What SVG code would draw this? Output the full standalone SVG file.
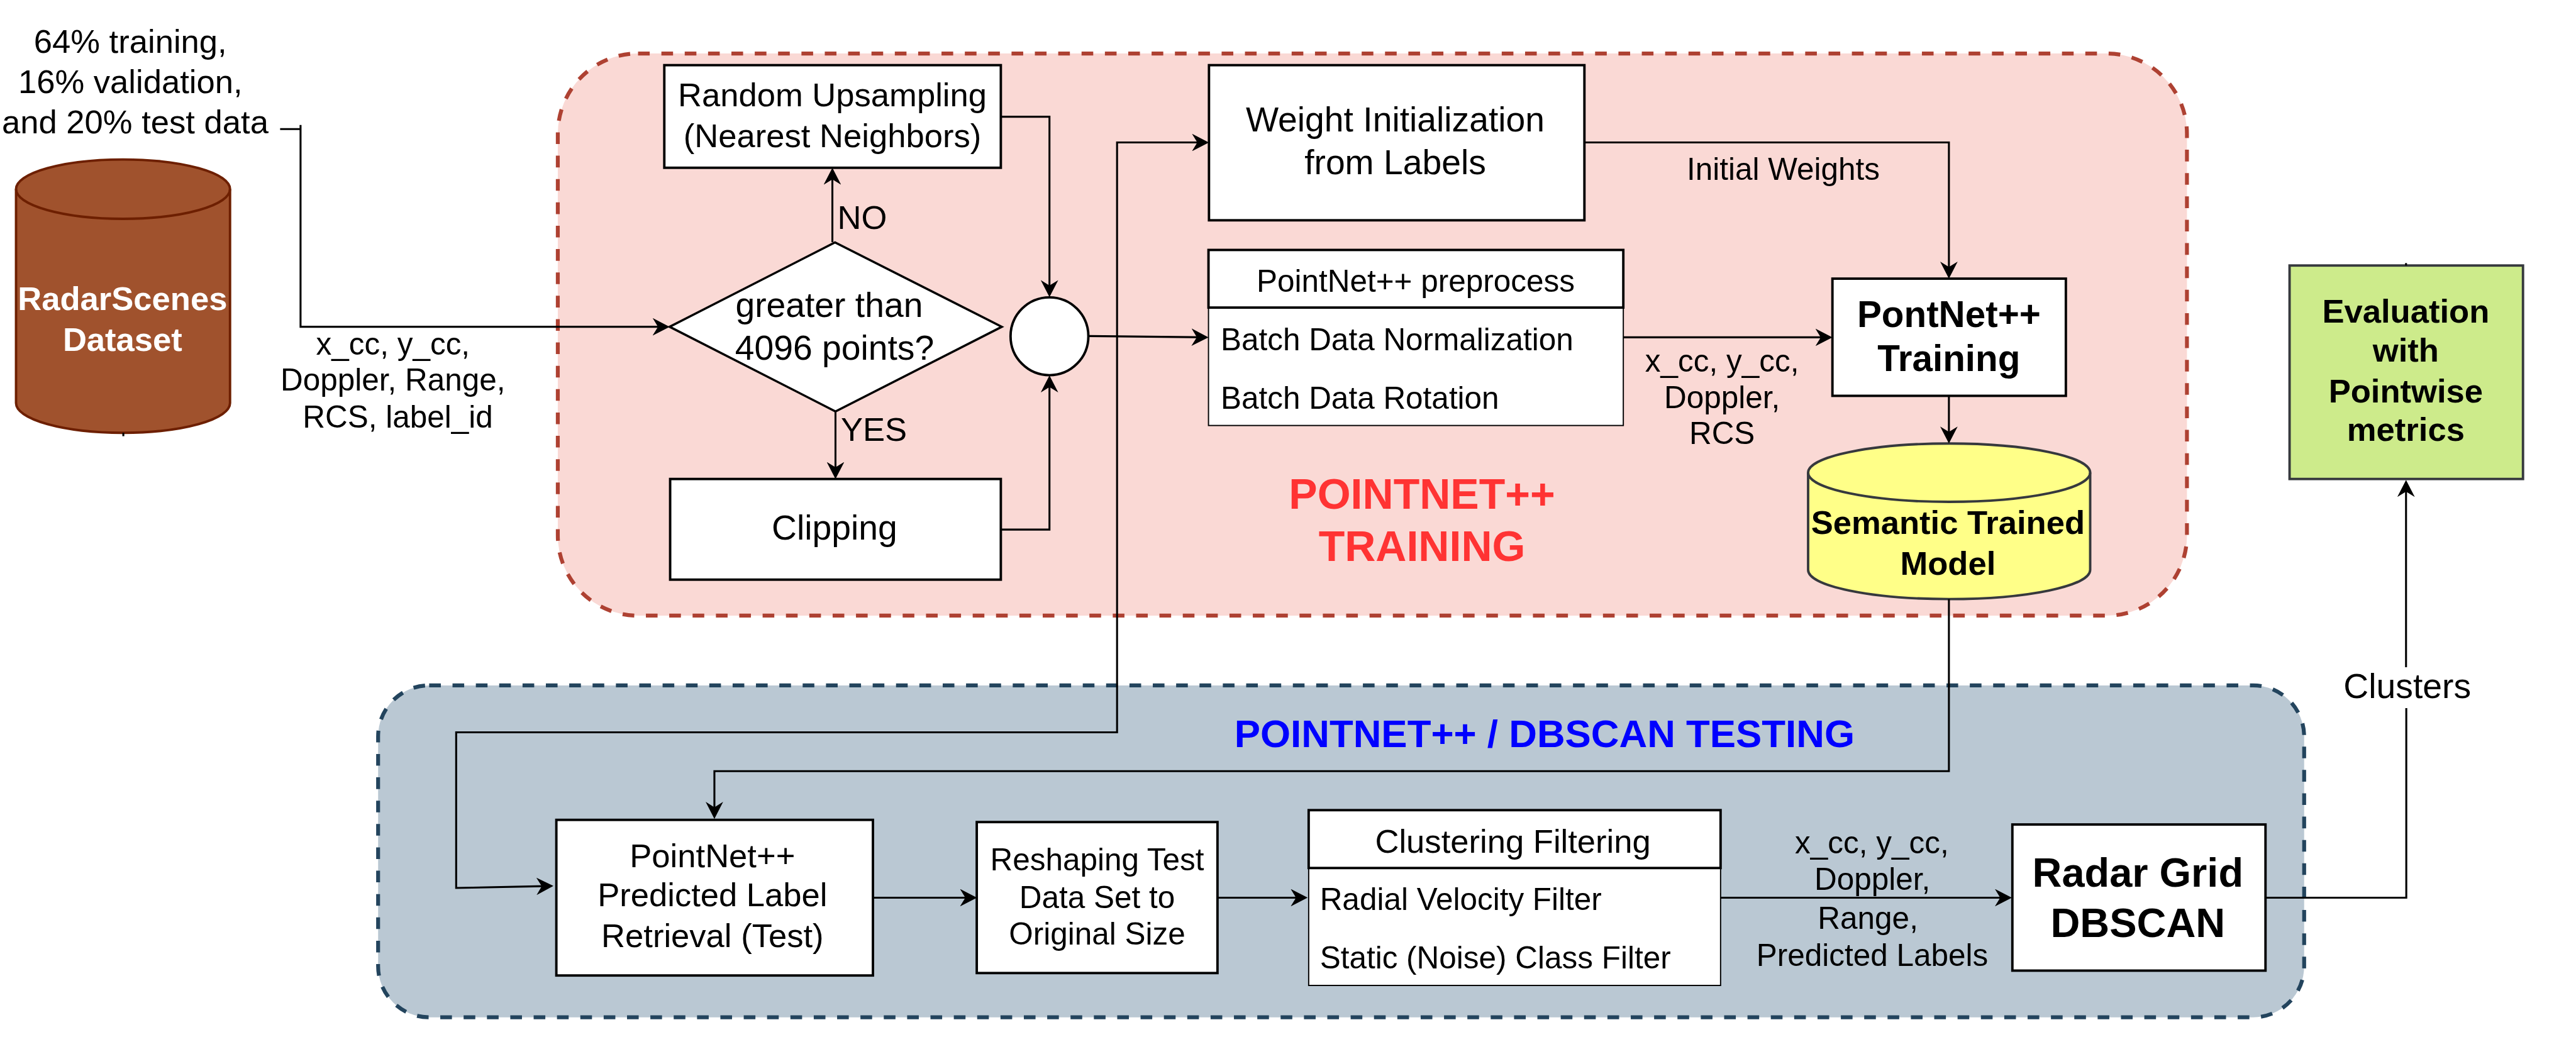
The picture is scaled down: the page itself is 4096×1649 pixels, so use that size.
<svg xmlns="http://www.w3.org/2000/svg" width="4096" height="1649" viewBox="0 0 4096 1649">
<style>
text{font-family:"Liberation Sans",Arial,sans-serif;fill:#000;font-size:68px}
.m{text-anchor:middle}
.b{font-weight:bold}
.s{font-size:64px}
.l{font-size:71.5px}
.n{fill:#fff;stroke:#000;stroke-width:5}
.t{fill:#fff;stroke:#000;stroke-width:2.5}
.c{fill:none;stroke:#000;stroke-width:4}
.a{marker-end:url(#arr)}
</style>
<defs>
<marker id="arr" viewBox="0 0 35 36" refX="30" refY="18" markerWidth="35" markerHeight="36" markerUnits="userSpaceOnUse" orient="auto-start-reverse"><path d="M35,18 L0,0 L11,18 L0,36 Z" fill="#000"/></marker>
</defs>
<g transform="scale(0.77327)">
<g id="region-training"><rect x="1147" y="110" width="3350" height="1156" rx="165" ry="165" fill="#fad9d5" stroke="#ae4132" stroke-width="8" stroke-dasharray="24 24"/>
<text class="m b" x="2924" y="1046" style="font-size:88px;fill:#ff3333">POINTNET++</text><text class="m b" x="2924" y="1154" style="font-size:88px;fill:#ff3333">TRAINING</text></g>
<g id="region-testing"><rect x="777.5" y="1409.5" width="3960.5" height="682.5" rx="105" ry="105" fill="#bac8d3" stroke="#23445d" stroke-width="8" stroke-dasharray="24 24"/>
<text class="m b" x="3176" y="1536" style="font-size:80px;fill:#0000ff">POINTNET++ / DBSCAN TESTING</text></g>

<g id="split-note"><text class="m" x="268" y="109">64% training,</text><text class="m" x="268" y="191">16% validation,</text><text class="m" x="278" y="274">and 20% test data</text></g>
<g id="radarscenes"><path d="M33,389 A220,61 0 0 1 473,389 V829 A220,61 0 0 1 33,829 Z" fill="#a0522d" stroke="#6d1f00" stroke-width="5"/><path d="M33,389 A220,61 0 0 0 473,389" fill="none" stroke="#6d1f00" stroke-width="5"/>
<text class="m b" x="252" y="638" style="fill:#fff">RadarScenes</text><text class="m b" x="252" y="721" style="fill:#fff">Dataset</text></g>
<g id="upsampling"><rect class="n" x="1366" y="134" width="692" height="211"/><text class="m" x="1711.6" y="219">Random Upsampling</text><text class="m" x="1711.6" y="302.6">(Nearest Neighbors)</text></g>
<g id="decision"><polygon class="n" points="1377,672 1717,498.5 2060,672 1718,846" style="stroke-width:4.5"/><text class="m l" x="1705" y="651.6">greater than</text><text class="m l" x="1716" y="739.6">4096 points?</text></g>
<g id="clipping"><rect class="n" x="1378" y="985" width="680" height="207"/><text class="m l" x="1716" y="1110">Clipping</text></g>
<g id="merge"><circle class="n" cx="2158" cy="691.5" r="80"/></g>
<g id="weight-init"><rect class="n" x="2486" y="134" width="772" height="319"/><text class="m l" x="2869" y="270.5">Weight Initialization</text><text class="m l" x="2869" y="358.5">from Labels</text></g>
<g id="preprocess"><rect class="t" x="2485" y="632.5" width="853" height="242.5"/><rect class="n" x="2485" y="514" width="853" height="118.5"/><text class="m s" x="2911" y="599.5">PointNet++ preprocess</text><text class="s" x="2510" y="720">Batch Data Normalization</text><text class="s" x="2510" y="840.6">Batch Data Rotation</text></g>
<g id="training"><rect class="n" x="3768" y="573" width="480" height="241"/><text class="m b" x="4007.5" y="672" style="font-size:75.5px">PontNet++</text><text class="m b" x="4007.5" y="763" style="font-size:75.5px">Training</text></g>
<g id="trained-model"><path d="M3718,972 A290,60 0 0 1 4298,972 V1172 A290,60 0 0 1 3718,1172 Z" fill="#ffff88" stroke="#36393d" stroke-width="5"/><path d="M3718,972 A290,60 0 0 0 4298,972" fill="none" stroke="#36393d" stroke-width="5"/><text class="m b" x="4005.5" y="1098">Semantic Trained</text><text class="m b" x="4005.5" y="1182">Model</text></g>
<g id="evaluation"><rect x="4708" y="546" width="480" height="439" fill="#cdeb8b" stroke="#36393d" stroke-width="5"/><text class="m b" x="4947" y="663">Evaluation</text><text class="m b" x="4947" y="744">with</text><text class="m b" x="4947" y="828">Pointwise</text><text class="m b" x="4947" y="906.5">metrics</text></g>
<g id="label-retrieval"><rect class="n" x="1144" y="1686" width="651" height="320"/><text class="m" x="1465" y="1783.4">PointNet++</text><text class="m" x="1465" y="1863">Predicted Label</text><text class="m" x="1465" y="1948">Retrieval (Test)</text></g>
<g id="reshaping"><rect class="n" x="2008.5" y="1690.5" width="495" height="310.5"/><text class="m s" x="2256" y="1790">Reshaping Test</text><text class="m s" x="2256" y="1867">Data Set to</text><text class="m s" x="2256" y="1943">Original Size</text></g>
<g id="clustering"><rect class="t" x="2691" y="1785" width="847" height="241.5"/><rect class="n" x="2691" y="1666" width="847" height="119"/><text class="m" x="3111" y="1753">Clustering Filtering</text><text class="s" x="2714" y="1871">Radial Velocity Filter</text><text class="s" x="2714" y="1992">Static (Noise) Class Filter</text></g>
<g id="dbscan"><rect class="n" x="4138" y="1695.5" width="520.5" height="300.5"/><text class="m b" x="4396" y="1823" style="font-size:84px">Radar Grid</text><text class="m b" x="4396" y="1927" style="font-size:84px">DBSCAN</text></g>

<g id="connectors">
<path class="c a" d="M576,265.5 H618 M618,257 V672 H1372"/>
<path class="c a" d="M1711.6,498 V350"/>
<path class="c a" d="M1718,846 V980"/>
<path class="c a" d="M2058,240 H2158 V606"/>
<path class="c a" d="M2058,1089 H2158 V777"/>
<path class="c a" d="M2238,691 L2480,693.7"/>
<path class="c a" d="M2481,293 H2297 V1506 H938 V1826 L1133,1822" style="marker-start:url(#arr)"/>
<path class="c a" d="M3258,293 H4007.5 V568"/>
<path class="c a" d="M3338,693.7 H3763"/>
<path class="c a" d="M4007.5,814 V907"/>
<path class="c a" d="M4007.5,1232 V1585.7 H1469 V1679"/>
<path class="c a" d="M1795,1846 H2004"/>
<path class="c a" d="M2504,1846 H2684"/>
<path class="c a" d="M3538,1846 H4132"/>
<path class="c" d="M4658,1846 H4948 V1456"/>
<path class="c a" d="M4947.5,1372 V992"/>
<path class="c" d="M4947.5,541 V546"/>
<path class="c" d="M253.6,890 V897"/>
</g>
<g id="labels">
<text class="m s" x="808" y="729">x_cc, y_cc,</text><text class="m s" x="808" y="803">Doppler, Range,</text><text class="m s" x="818" y="879">RCS, label_id</text>
<text x="1722" y="471">NO</text><text x="1729" y="906">YES</text>
<text class="m s" x="3667" y="370">Initial Weights</text>
<text class="m s" x="3541" y="764">x_cc, y_cc,</text><text class="m s" x="3541" y="839">Doppler,</text><text class="m s" x="3541" y="913">RCS</text>
<text class="m s" x="3849" y="1755.5">x_cc, y_cc,</text><text class="m s" x="3850" y="1830">Doppler,</text><text class="m s" x="3841" y="1910">Range,</text><text class="m s" x="3850" y="1987">Predicted Labels</text>
<text class="m l" x="4950" y="1435">Clusters</text>
</g>
</g>
</svg>
